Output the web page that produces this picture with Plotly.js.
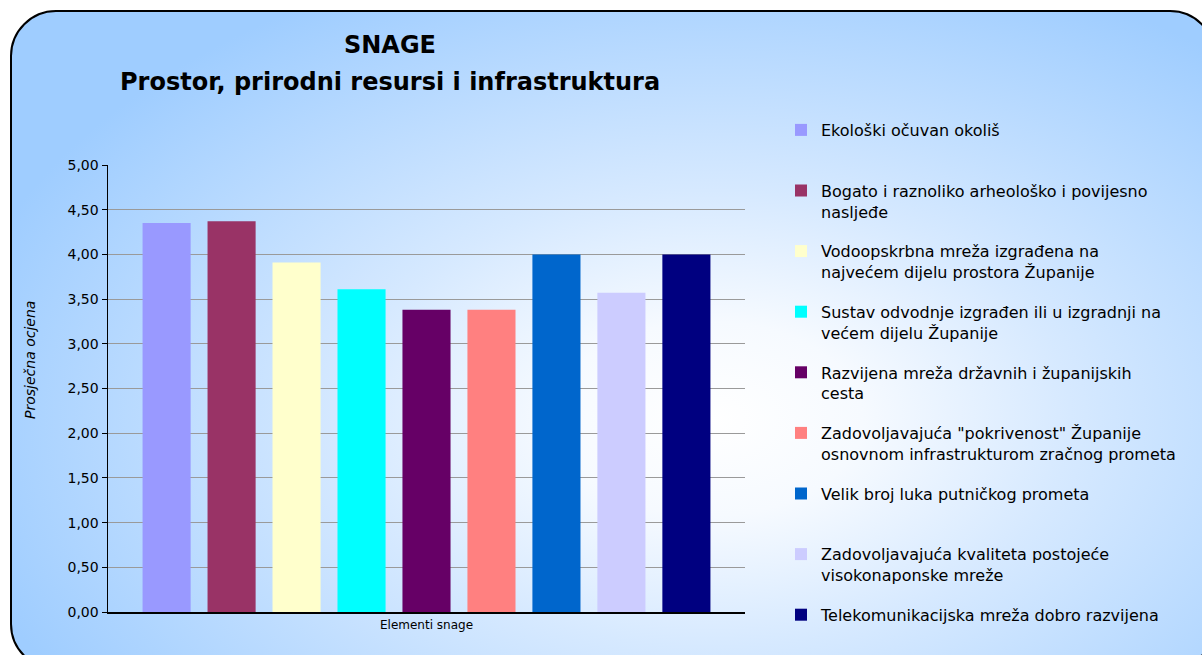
<!DOCTYPE html>
<html>
<head>
<meta charset="utf-8">
<script src="https://cdn.plot.ly/plotly-3.0.1.min.js"></script>
<style>
  html, body { margin:0; padding:0; width:1202px; height:655px; overflow:hidden; background:#ffffff; }
  #frame {
    position:absolute; left:10px; top:10px; width:1206px; height:660px;
    box-sizing:border-box; border:2.5px solid #000; border-radius:46px;
    background: radial-gradient(ellipse 64% 74% at 58% 62%, #ffffff 0%, #f6faff 20%, #d6e9ff 47%, #9fcdff 100%);
  }
  #chart { position:absolute; left:0; top:0; width:1202px; height:655px; }
</style>
</head>
<body>
<div id="frame"></div>
<div id="chart"></div>
<script>
const category = ["Elementi snage"];
const titleLine1 = "SNAGE";
const titleLine2 = "Prostor, prirodni resursi i infrastruktura";
const seriesNames = [
  "Ekološki očuvan okoliš<br> ",
  "Bogato i raznoliko arheološko i povijesno<br>nasljeđe",
  "Vodoopskrbna mreža izgrađena na<br>najvećem dijelu prostora Županije",
  "Sustav odvodnje izgrađen ili u izgradnji na<br>većem dijelu Županije",
  "Razvijena mreža državnih i županijskih<br>cesta",
  "Zadovoljavajuća \"pokrivenost\" Županije<br>osnovnom infrastrukturom zračnog prometa",
  "Velik broj luka putničkog prometa<br> ",
  "Zadovoljavajuća kvaliteta postojeće<br>visokonaponske mreže",
  "Telekomunikacijska mreža dobro razvijena<br> "
];
const seriesValues = [4.35, 4.37, 3.91, 3.61, 3.38, 3.38, 4.00, 3.57, 4.00];
const seriesColors = ["#9999FF", "#993366", "#FFFFCC", "#00FFFF", "#660066", "#FF8080", "#0066CC", "#CCCCFF", "#000080"];
const yTicks = [0, 0.5, 1, 1.5, 2, 2.5, 3, 3.5, 4, 4.5, 5];

const traces = seriesNames.map((n, i) => ({
  type: "bar",
  name: n,
  x: category,
  y: [seriesValues[i]],
  marker: { color: seriesColors[i], line: { width: 0 } },
  legendgroup: "g" + i,
  hoverinfo: "y+name"
}));

const FONT = "DejaVu Sans, Verdana, sans-serif";

const layout = {
  width: 1202, height: 655,
  paper_bgcolor: "rgba(0,0,0,0)",
  plot_bgcolor: "rgba(0,0,0,0)",
  margin: { l: 108, r: 457, t: 165, b: 43 },
  separators: ",.",
  font: { family: FONT, color: "#000" },
  title: {
    text: "<b>" + titleLine1 + "</b>",
    font: { family: FONT, size: 24, color: "#000" },
    x: 390 / 1202, xanchor: "center", xref: "container",
    y: 1 - 45 / 655, yanchor: "middle", yref: "container"
  },
  barmode: "group",
  bargap: 0.082,
  bargroupgap: 0.26,
  showlegend: true,
  legend: {
    xref: "container", yref: "container",
    x: 781 / 1202, xanchor: "left",
    y: 1 - 113 / 655, yanchor: "top",
    maxheight: 540,
    bgcolor: "rgba(0,0,0,0)",
    borderwidth: 0,
    font: { family: FONT, size: 16, color: "#000" },
    tracegroupgap: 16,
    valign: "top",
    itemwidth: 30,
    traceorder: "grouped"
  },
  xaxis: {
    type: "category",
    showticklabels: false,
    ticks: "",
    showline: true, linecolor: "#000", linewidth: 1.5,
    showgrid: false, zeroline: false,
    title: { text: "Elementi snage", font: { size: 12, color: "#000" }, standoff: 8 },
    fixedrange: true
  },
  yaxis: {
    range: [0, 5],
    tickvals: yTicks,
    tickformat: ".2f",
    ticks: "outside", ticklen: 5, tickcolor: "#000",
    showline: true, linecolor: "#000", linewidth: 1.5,
    showgrid: true, gridcolor: "#9a9a9a", gridwidth: 1,
    zeroline: false,
    tickfont: { size: 14, color: "#000" },
    fixedrange: true
  },
  annotations: [{
    text: "<b>" + titleLine2 + "</b>",
    xref: "paper", yref: "paper",
    x: (390 - 108) / 637, y: (612 - 82) / 447,
    xanchor: "center", yanchor: "middle",
    showarrow: false,
    font: { family: FONT, size: 24, color: "#000" }
  }, {
    text: "<i>Prosječna ocjena</i>",
    xref: "paper", yref: "paper",
    x: -78 / 637, y: (612 - 360) / 447,
    xanchor: "center", yanchor: "middle",
    textangle: -90, showarrow: false,
    font: { family: FONT, size: 14, color: "#000" }
  }]
};

Plotly.newPlot("chart", traces, layout, { displayModeBar: false, staticPlot: true });
</script>
</body>
</html>
